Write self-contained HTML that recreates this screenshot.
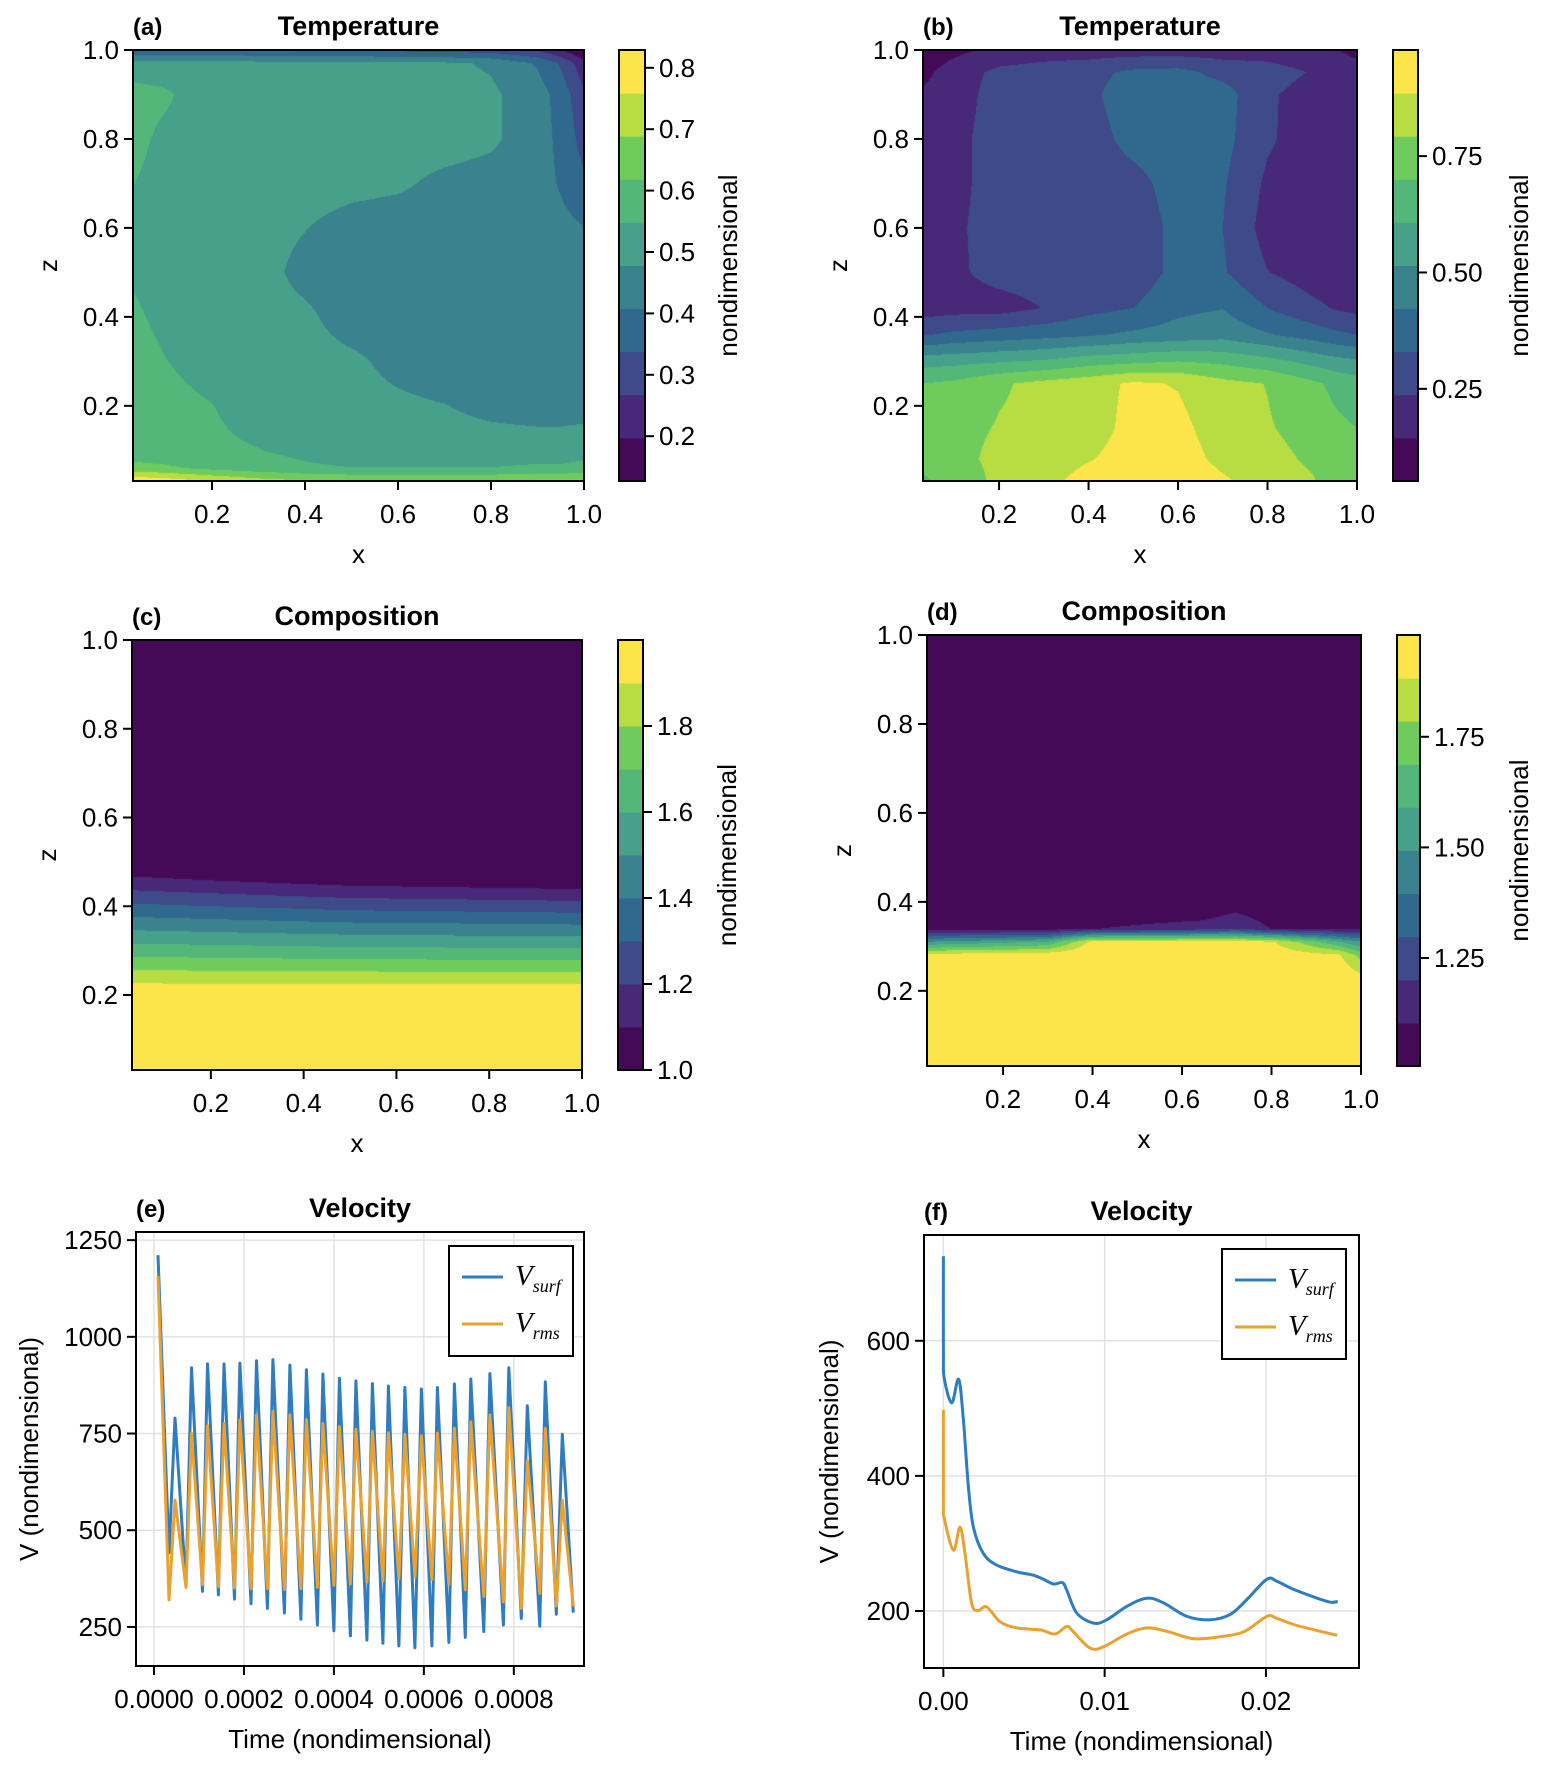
<!DOCTYPE html>
<html><head><meta charset="utf-8">
<style>
html,body{margin:0;padding:0;background:#fff;}
#root{position:relative;width:1545px;height:1771px;overflow:hidden;background:#fff;font-family:"Liberation Sans",Arial,sans-serif;}
canvas{position:absolute;}
svg{position:absolute;left:0;top:0;}
</style></head>
<body>
<div id="root">
<svg id="ov" width="1545" height="1771"></svg>
</div>
<script>
// ---------- data: panel (a) temperature ----------
const aX=[0.03,0.1,0.2,0.3,0.4,0.5,0.6,0.7,0.8,0.9,0.95,1.0];
const aZ=[1.0,0.97,0.9,0.8,0.7,0.6,0.5,0.4,0.3,0.2,0.1,0.06,0.03];
const aT=[
[0.36,0.36,0.35,0.34,0.33,0.33,0.32,0.31,0.30,0.26,0.20,0.12],
[0.50,0.50,0.50,0.50,0.50,0.50,0.49,0.49,0.47,0.40,0.33,0.22],
[0.58,0.56,0.50,0.50,0.50,0.50,0.50,0.50,0.49,0.44,0.38,0.28],
[0.57,0.53,0.51,0.51,0.51,0.51,0.51,0.51,0.49,0.44,0.39,0.31],
[0.55,0.52,0.51,0.51,0.51,0.50,0.49,0.46,0.45,0.44,0.40,0.35],
[0.53,0.52,0.51,0.50,0.48,0.45,0.44,0.44,0.44,0.44,0.43,0.41],
[0.54,0.52,0.51,0.50,0.46,0.44,0.44,0.44,0.44,0.44,0.44,0.44],
[0.56,0.53,0.51,0.50,0.49,0.45,0.44,0.44,0.44,0.44,0.44,0.44],
[0.58,0.55,0.52,0.51,0.50,0.49,0.46,0.44,0.44,0.44,0.44,0.44],
[0.58,0.57,0.55,0.52,0.51,0.50,0.49,0.48,0.46,0.45,0.45,0.45],
[0.58,0.57,0.56,0.55,0.53,0.51,0.51,0.51,0.51,0.51,0.51,0.52],
[0.64,0.63,0.60,0.58,0.56,0.55,0.55,0.55,0.55,0.56,0.56,0.57],
[0.82,0.80,0.76,0.72,0.70,0.69,0.69,0.69,0.69,0.70,0.70,0.70]];
const aLevels=[0.127,0.829];
const aTicks=[0.2,0.3,0.4,0.5,0.6,0.7,0.8];
const aTickLabels=["0.2","0.3","0.4","0.5","0.6","0.7","0.8"];
// ---------- panel (b) temperature ----------
const bX=[0.03,0.1,0.2,0.3,0.4,0.5,0.6,0.7,0.8,0.9,0.95,1.0];
const bZ=[1.0,0.95,0.9,0.8,0.7,0.6,0.5,0.42,0.36,0.3,0.25,0.15,0.08,0.03];
const bT=[
[0.08,0.12,0.17,0.19,0.19,0.19,0.19,0.19,0.19,0.17,0.15,0.12],
[0.12,0.19,0.26,0.28,0.30,0.35,0.36,0.30,0.28,0.23,0.20,0.18],
[0.16,0.19,0.28,0.28,0.31,0.38,0.38,0.37,0.25,0.20,0.19,0.18],
[0.17,0.21,0.28,0.28,0.29,0.36,0.38,0.36,0.25,0.19,0.19,0.18],
[0.17,0.21,0.28,0.28,0.28,0.30,0.37,0.34,0.22,0.19,0.19,0.18],
[0.17,0.22,0.28,0.28,0.28,0.27,0.36,0.33,0.20,0.19,0.19,0.18],
[0.18,0.22,0.27,0.28,0.28,0.27,0.36,0.34,0.24,0.19,0.19,0.18],
[0.19,0.20,0.20,0.24,0.30,0.33,0.40,0.42,0.33,0.26,0.23,0.21],
[0.32,0.35,0.37,0.39,0.41,0.44,0.46,0.48,0.43,0.38,0.35,0.33],
[0.57,0.58,0.60,0.62,0.66,0.68,0.70,0.68,0.64,0.58,0.55,0.53],
[0.70,0.72,0.78,0.82,0.85,0.90,0.88,0.82,0.79,0.72,0.68,0.65],
[0.74,0.76,0.80,0.82,0.85,0.91,0.91,0.84,0.80,0.76,0.72,0.70],
[0.72,0.76,0.82,0.84,0.88,0.92,0.93,0.86,0.82,0.78,0.75,0.72],
[0.69,0.72,0.82,0.86,0.92,0.94,0.96,0.90,0.84,0.80,0.76,0.72]];
const bLevels=[0.052,0.978];
const bTicks=[0.25,0.5,0.75];
const bTickLabels=["0.25","0.50","0.75"];
// ---------- panel (c) composition ----------
const cX=[0.03,0.5,1.0];
const cZ=[1.0,0.5,0.46,0.22,0.03];
const cC=[
[1.0,1.0,1.0],
[1.0,1.0,1.0],
[1.12,1.05,1.02],
[1.92,1.92,1.92],
[1.99,1.99,1.99]];
const cLevels=[1.0,2.0];
const cTicks=[1.0,1.2,1.4,1.6,1.8];
const cTickLabels=["1.0","1.2","1.4","1.6","1.8"];
// ---------- panel (d) composition ----------
const dX=[0.03,0.3,0.4,0.65,0.72,0.8,0.95,1.0];
const dZ=[1.0,0.4,0.34,0.31,0.28,0.24,0.03];
const dC=[
[1.0,1.0,1.0,1.0,1.0,1.0,1.0,1.0],
[1.0,1.0,1.0,1.0,1.04,1.0,1.0,1.0],
[1.05,1.05,1.1,1.15,1.2,1.1,1.08,1.08],
[1.5,1.6,1.92,1.93,1.93,1.9,1.6,1.5],
[1.93,1.95,1.97,1.97,1.97,1.95,1.9,1.75],
[1.97,1.97,1.98,1.98,1.98,1.97,1.95,1.88],
[1.98,1.98,1.98,1.98,1.98,1.98,1.98,1.98]];
const dLevels=[1.006,1.98];
const dTicks=[1.25,1.5,1.75];
const dTickLabels=["1.25","1.50","1.75"];
// ---------- panel (e) velocity (time in 1e-4) ----------
const eTime=[0.089,0.333,0.467,0.711,0.833,1.078,1.189,1.433,1.556,1.789,1.911,2.156,2.278,2.522,2.644,2.9,3.022,3.267,3.389,3.633,3.756,4.0,4.122,4.367,4.489,4.733,4.856,5.089,5.211,5.444,5.578,5.8,5.944,6.178,6.3,6.556,6.678,6.922,7.044,7.333,7.467,7.767,7.889,8.167,8.3,8.578,8.7,8.944,9.078,9.322];
const eSurf=[1211,442,790,355,920,342,930,333,930,322,932,310,938,298,941,286,927,270,915,255,904,240,893,227,886,216,879,208,873,201,869,196,865,201,869,210,878,223,891,238,905,255,920,272,822,252,884,283,748,287];
const eRms=[1157,320,578,352,750,359,770,354,776,351,785,349,798,349,807,347,798,349,786,353,776,358,768,361,761,366,756,369,752,374,748,379,744,373,751,361,764,346,780,329,798,315,817,298,680,337,763,304,578,303];
const eXTicks=[0,2,4,6,8];
const eXTickLabels=["0.0000","0.0002","0.0004","0.0006","0.0008"];
const eYTicks=[250,500,750,1000,1250];
// ---------- panel (f) velocity (time in 1e-3) ----------
const fSurfTime=[0,0,0.06,0.52,0.95,1.24,1.55,1.86,2.48,3.31,4.55,5.58,6.20,6.83,7.38,7.65,8.27,9.31,10.13,11.38,12.62,13.65,15.10,16.54,17.79,18.82,20.06,20.68,21.72,23.17,23.99,24.45];
const fSurf=[725,579,544,508,543,483,384,324,285,268,258,253,247,240,242,231,197,182,187,207,219,212,192,187,195,217,247,244,232,219,213,214];
const fRmsTime=[0,0,0.06,0.62,1.03,1.34,1.76,2.17,2.69,3.52,4.55,6.00,6.93,7.65,8.07,9.10,9.93,11.38,12.62,13.86,15.51,17.17,18.61,20.06,20.68,21.72,23.17,24.41];
const fRms=[498,359,337,290,324,285,211,201,206,184,175,172,166,177,169,145,147,166,175,170,159,162,169,192,189,180,171,164];
const fXTicks=[0,10,20];
const fXTickLabels=["0.00","0.01","0.02"];
const fYTicks=[200,400,600];

const VIR=["#450a57","#482878","#3e4a89","#30688e","#39828e","#47a08a","#52b779","#6fcc5c","#b7dd42","#fbe54a"];
const NS="http://www.w3.org/2000/svg";
const ov=document.getElementById('ov');
const root=document.getElementById('root');
const FS=26;
function mk(tag,attrs,parent){const e=document.createElementNS(NS,tag);for(const k in attrs)e.setAttribute(k,attrs[k]);(parent||ov).appendChild(e);return e;}
function txt(s,x,y,size,anchor,weight,parent,rot){
  const t=mk('text',{x:x,y:y,'font-size':size,'text-anchor':anchor||'middle','font-family':'"Liberation Sans",Arial,sans-serif','font-weight':weight||'normal',fill:'#000'},parent);
  if(rot)t.setAttribute('transform','rotate(-90 '+x+' '+y+')');
  t.textContent=s;return t;}
function hexRgb(h){return [parseInt(h.slice(1,3),16),parseInt(h.slice(3,5),16),parseInt(h.slice(5,7),16)];}
const VIRR=VIR.map(hexRgb);

function interp(xs,zsDesc,grid){
  const zs=zsDesc.slice().reverse();const g=grid.slice().reverse();
  return function(x,z){
    let i=0;while(i<xs.length-2&&x>xs[i+1])i++;
    let j=0;while(j<zs.length-2&&z>zs[j+1])j++;
    let tx=(x-xs[i])/(xs[i+1]-xs[i]);tx=Math.max(0,Math.min(1,tx));
    let tz=(z-zs[j])/(zs[j+1]-zs[j]);tz=Math.max(0,Math.min(1,tz));
    const v00=g[j][i],v10=g[j][i+1],v01=g[j+1][i],v11=g[j+1][i+1];
    return (v00*(1-tx)+v10*tx)*(1-tz)+(v01*(1-tx)+v11*tx)*tz;
  };
}

function heatPanel(p){
  const w=p.px[1]-p.px[0],h=p.py[1]-p.py[0];
  const cv=document.createElement('canvas');
  cv.width=w;cv.height=h;cv.style.left=p.px[0]+'px';cv.style.top=p.py[0]+'px';
  
  
  root.insertBefore(cv,ov);
  const ctx=cv.getContext('2d');const img=ctx.createImageData(w,h);
  const f=interp(p.xs,p.zs,p.grid);
  const cmin=p.cr[0],cmax=p.cr[1];
  for(let py=0;py<h;py++){
    const z=p.zr[1]-(py+0.5)/h*(p.zr[1]-p.zr[0]);
    for(let px=0;px<w;px++){
      const x=p.xr[0]+(px+0.5)/w*(p.xr[1]-p.xr[0]);
      const v=f(x,z);
      let k=Math.floor((v-cmin)/(cmax-cmin)*10);k=Math.max(0,Math.min(9,k));
      const c=VIRR[k];const o=(py*w+px)*4;
      img.data[o]=c[0];img.data[o+1]=c[1];img.data[o+2]=c[2];img.data[o+3]=255;
    }
  }
  ctx.putImageData(img,0,0);
  const g=mk('g',{});
  
  
  const sx=v=>p.px[0]+(v-p.xr[0])/(p.xr[1]-p.xr[0])*w;
  const sz=v=>p.py[1]-(v-p.zr[0])/(p.zr[1]-p.zr[0])*h;
  mk('rect',{x:p.px[0],y:p.py[0],width:w,height:h,fill:'none',stroke:'#000','stroke-width':2},g);
  [0.2,0.4,0.6,0.8,1.0].forEach((v,i)=>{
    const X=sx(v);mk('line',{x1:X,x2:X,y1:p.py[1],y2:p.py[1]+9,stroke:'#000','stroke-width':2},g);
    const t=txt(['0.2','0.4','0.6','0.8','1.0'][i],X,p.py[1]+42,FS,'middle','normal',g);
    
    
    const Y=sz(v);mk('line',{x1:p.px[0]-9,x2:p.px[0],y1:Y,y2:Y,stroke:'#000','stroke-width':2},g);
    const t2=txt(['0.2','0.4','0.6','0.8','1.0'][i],p.px[0]-14,Y+9,FS,'end','normal',g);
    
    
  });
  const xl=txt('x',(p.px[0]+p.px[1])/2,p.py[1]+82,FS,'middle','normal',g);
  
  
  const zl=txt('z',p.px[0]-76,(p.py[0]+p.py[1])/2,FS,'middle','normal',g,true);
  
  
  const ti=txt(p.title,(p.px[0]+p.px[1])/2,p.py[0]-15,27,'middle','bold',g);
  
  
  const tg=txt(p.tag,p.px[0],p.py[0]-15,24,'start','bold',g);
  
  
  const cb=mk('g',{});
  
  
  const bh=h/10;
  for(let k=0;k<10;k++){
    const r=mk('rect',{x:p.cb[0],y:p.py[1]-(k+1)*bh,width:p.cb[1]-p.cb[0],height:bh+0.5,fill:VIR[k]},cb);
    
    
  }
  mk('rect',{x:p.cb[0],y:p.py[0],width:p.cb[1]-p.cb[0],height:h,fill:'none',stroke:'#000','stroke-width':2},cb);
  p.cticks.forEach((v,i)=>{
    const Y=p.py[1]-(v-cmin)/(cmax-cmin)*h;
    mk('line',{x1:p.cb[1],x2:p.cb[1]+9,y1:Y,y2:Y,stroke:'#000','stroke-width':2},cb);
    const t=txt(p.clabels[i],p.cb[1]+14,Y+9,FS,'start','normal',cb);
    
    
  });
  const cl=txt('nondimensional',p.cbl,(p.py[0]+p.py[1])/2,FS,'middle','normal',cb,true);
  
  
}

heatPanel({id:'temperature-a',px:[133,584],py:[50,481],xr:[0.03,1.0],zr:[0.031,1.0],xs:aX,zs:aZ,grid:aT,cr:aLevels,cb:[619,645],cticks:aTicks,clabels:aTickLabels,cbl:737,title:'Temperature',tag:'(a)'});
heatPanel({id:'temperature-b',px:[923,1357],py:[50,481],xr:[0.03,1.0],zr:[0.031,1.0],xs:bX,zs:bZ,grid:bT,cr:bLevels,cb:[1393,1418],cticks:bTicks,clabels:bTickLabels,cbl:1528,title:'Temperature',tag:'(b)'});
heatPanel({id:'composition-c',px:[132,582],py:[640,1070],xr:[0.03,1.0],zr:[0.031,1.0],xs:cX,zs:cZ,grid:cC,cr:cLevels,cb:[618,643],cticks:cTicks,clabels:cTickLabels,cbl:736,title:'Composition',tag:'(c)'});
heatPanel({id:'composition-d',px:[927,1361],py:[635,1066],xr:[0.03,1.0],zr:[0.031,1.0],xs:dX,zs:dZ,grid:dC,cr:dLevels,cb:[1397,1420],cticks:dTicks,clabels:dTickLabels,cbl:1528,title:'Composition',tag:'(d)'});

function smoothPath(pts){
  let d='M'+pts[0][0].toFixed(1)+','+pts[0][1].toFixed(1);
  for(let i=0;i<pts.length-1;i++){
    const p0=pts[Math.max(0,i-1)],p1=pts[i],p2=pts[i+1],p3=pts[Math.min(pts.length-1,i+2)];
    const c1=[p1[0]+(p2[0]-p0[0])/6,p1[1]+(p2[1]-p0[1])/6];
    const c2=[p2[0]-(p3[0]-p1[0])/6,p2[1]-(p3[1]-p1[1])/6];
    d+=' C'+c1[0].toFixed(1)+','+c1[1].toFixed(1)+' '+c2[0].toFixed(1)+','+c2[1].toFixed(1)+' '+p2[0].toFixed(1)+','+p2[1].toFixed(1);
  }
  return d;
}

function linePanel(p){
  const w=p.px[1]-p.px[0],h=p.py[1]-p.py[0];
  const sx=v=>p.px[0]+(v-p.xr[0])/(p.xr[1]-p.xr[0])*w;
  const sy=v=>p.py[1]-(v-p.yr[0])/(p.yr[1]-p.yr[0])*h;
  const g=mk('g',{});
  
  
  p.xt.forEach((v,i)=>{
    const X=sx(v);
    mk('line',{x1:X,x2:X,y1:p.py[0],y2:p.py[1],stroke:'#e2e2e2','stroke-width':1.5},g);
    mk('line',{x1:X,x2:X,y1:p.py[1],y2:p.py[1]+9,stroke:'#000','stroke-width':2},g);
    const t=txt(p.xtl[i],X,p.py[1]+42,FS,'middle','normal',g);
    
    
  });
  p.yt.forEach(v=>{
    const Y=sy(v);
    mk('line',{x1:p.px[0],x2:p.px[1],y1:Y,y2:Y,stroke:'#e2e2e2','stroke-width':1.5},g);
    mk('line',{x1:p.px[0]-9,x2:p.px[0],y1:Y,y2:Y,stroke:'#000','stroke-width':2},g);
    const t=txt(String(v),p.px[0]-14,Y+9,FS,'end','normal',g);
    
    
  });
  const pts1=p.t1.map((t,i)=>[sx(t),sy(p.v1[i])]);
  const pts2=p.t2.map((t,i)=>[sx(t),sy(p.v2[i])]);
  const s1=mk('path',{d:p.smooth?smoothPath(pts1):'M'+pts1.map(q=>q[0].toFixed(1)+','+q[1].toFixed(1)).join(' L'),fill:'none',stroke:'#2f7cc0','stroke-width':3,'stroke-linejoin':'round'},g);
  
  
  const s2=mk('path',{d:p.smooth?smoothPath(pts2):'M'+pts2.map(q=>q[0].toFixed(1)+','+q[1].toFixed(1)).join(' L'),fill:'none',stroke:'#e9a131','stroke-width':3,'stroke-linejoin':'round'},g);
  
  
  mk('rect',{x:p.px[0],y:p.py[0],width:w,height:h,fill:'none',stroke:'#000','stroke-width':2},g);
  const xl=txt('Time (nondimensional)',(p.px[0]+p.px[1])/2,p.py[1]+82,FS,'middle','normal',g);
  
  
  const yl=txt('V (nondimensional)',p.ylx,(p.py[0]+p.py[1])/2,FS,'middle','normal',g,true);
  
  
  const ti=txt('Velocity',(p.px[0]+p.px[1])/2,p.py[0]-15,27,'middle','bold',g);
  
  
  const tg=txt(p.tag,p.px[0],p.py[0]-15,24,'start','bold',g);
  
  
  const L=p.leg;
  const lg=mk('g',{});
  
  
  mk('rect',{x:L[0],y:L[1],width:L[2],height:L[3],fill:'#fff',stroke:'#000','stroke-width':2},lg);
  [['#2f7cc0','surf'],['#e9a131','rms']].forEach((e,i)=>{
    const y=L[1]+31+i*47;
    mk('line',{x1:L[0]+13,x2:L[0]+54,y1:y,y2:y,stroke:e[0],'stroke-width':3},lg);
    const t=mk('text',{x:L[0]+66,y:y+8,'font-size':29,'font-family':'"Liberation Serif",serif','font-style':'italic'},lg);
    
    
    t.textContent='V';
    const s=mk('tspan',{dy:7,'font-size':18},t);s.textContent=e[1];
  });
}
linePanel({id:'velocity-e',px:[136,584],py:[1232,1666],xr:[-0.4,9.56],yr:[149,1271],xt:eXTicks,xtl:eXTickLabels,yt:eYTicks,t1:eTime,v1:eSurf,t2:eTime,v2:eRms,ylx:38,tag:'(e)',leg:[449,1246,124,110],smooth:false});
linePanel({id:'velocity-f',px:[924,1359],py:[1235,1668],xr:[-1.2,25.77],yr:[115.6,756.6],xt:fXTicks,xtl:fXTickLabels,yt:fYTicks,t1:fSurfTime,v1:fSurf,t2:fRmsTime,v2:fRms,ylx:838,tag:'(f)',leg:[1222,1249,124,110],smooth:true});
</script>
</body></html>
